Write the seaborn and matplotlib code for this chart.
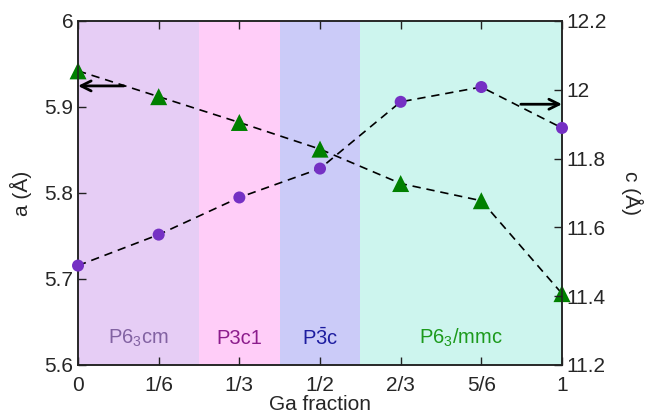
import numpy as np
import pandas as pd
import seaborn as sns
import matplotlib.pyplot as plt

# Ga fraction and lattice parameters
ga = [0, 1/6, 1/3, 1/2, 2/3, 5/6, 1]
tick_labels = ['0', '1/6', '1/3', '1/2', '2/3', '5/6', '1']
a_vals = [5.942, 5.912, 5.882, 5.851, 5.811, 5.791, 5.683]      # triangles, left axis
c_vals = [11.489, 11.579, 11.687, 11.771, 11.965, 12.008, 11.889]  # circles, right axis

# phase regions along x
phase_names = ['P6$_3$cm', 'P3c1', 'P$\\bar{3}$c', 'P6$_3$/mmc']
phase_edges = [0, 1/4, 5/12, 7/12, 1]
phase_fill = ['#e6cdf5', '#ffcdf8', '#cbcbf8', '#cdf5ee']
phase_text = ['#8262a2', '#8c1c8c', '#1c1ca0', '#1c9a1c']

sns.set_theme(style='ticks')
plt.rcParams['font.family'] = ['Liberation Sans', 'DejaVu Sans']
plt.rcParams['mathtext.fontset'] = 'custom'
plt.rcParams['mathtext.rm'] = 'Liberation Sans'
plt.rcParams['mathtext.it'] = 'Liberation Sans'
plt.rcParams['mathtext.default'] = 'rm'

df = pd.DataFrame({'ga': ga, 'a': a_vals, 'c': c_vals})

fig = plt.figure(figsize=(6.47, 4.18), dpi=100)
ax = fig.add_axes([0.1206, 0.1268, 0.748, 0.823])
ax2 = ax.twinx()

for i, name in enumerate(phase_names):
    x0, x1 = phase_edges[i], phase_edges[i + 1]
    ax.axvspan(x0, x1, color=phase_fill[i], lw=0, zorder=0)
    ax.text((x0 + x1) / 2, 5.631, name, color=phase_text[i], fontsize=14.5,
            ha='center', va='center', zorder=1)

sns.lineplot(data=df, x='ga', y='a', ax=ax, color='black', lw=1.2,
             linestyle=(0, (5, 3.5)), zorder=2)
sns.scatterplot(data=df, x='ga', y='a', ax=ax, color='green', marker='^',
                s=150, edgecolor='none', zorder=3, clip_on=False)

sns.lineplot(data=df, x='ga', y='c', ax=ax2, color='black', lw=1.2,
             linestyle=(0, (5, 3.5)), zorder=2)
sns.scatterplot(data=df, x='ga', y='c', ax=ax2, color='#7530c4', marker='o',
                s=75, edgecolor='none', zorder=3, clip_on=False)

ax.annotate('', xy=(0, 5.9245), xytext=(0.0947, 5.9245),
            arrowprops=dict(arrowstyle='->', lw=2, color='black',
                            mutation_scale=18, shrinkA=0, shrinkB=0))
ax2.annotate('', xy=(1, 11.958), xytext=(0.915, 11.958),
             arrowprops=dict(arrowstyle='->', lw=2, color='black',
                             mutation_scale=18, shrinkA=0, shrinkB=0))

ax.set_xlim(0, 1)
ax.set_ylim(5.6, 6.0)
ax2.set_ylim(11.2, 12.2)
ax.set_xticks(ga)
ax.set_xticklabels(tick_labels)
ax.set_yticks([5.6, 5.7, 5.8, 5.9, 6.0])
ax.set_yticklabels(['5.6', '5.7', '5.8', '5.9', '6'])
ax2.set_yticks([11.2, 11.4, 11.6, 11.8, 12.0, 12.2])
ax2.set_yticklabels(['11.2', '11.4', '11.6', '11.8', '12', '12.2'])

ax.set_xlabel('Ga fraction', fontsize=15, labelpad=0)
ax.set_ylabel('a (Å)', fontsize=15, labelpad=9)
ax2.set_ylabel('c (Å)', fontsize=15, rotation=270, labelpad=26)

ax.tick_params(axis='x', direction='in', top=True, length=6, width=1,
               labelsize=15, pad=8, color='#222222')
ax.tick_params(axis='y', direction='in', length=6, width=1, labelsize=15,
               color='#222222')
ax2.tick_params(axis='y', direction='in', length=6, width=1, labelsize=15,
                color='#222222')
for a_ in (ax, ax2):
    for sp in a_.spines.values():
        sp.set_linewidth(1.1)
        sp.set_color('#222222')

fig.savefig('out.png', dpi=100)
